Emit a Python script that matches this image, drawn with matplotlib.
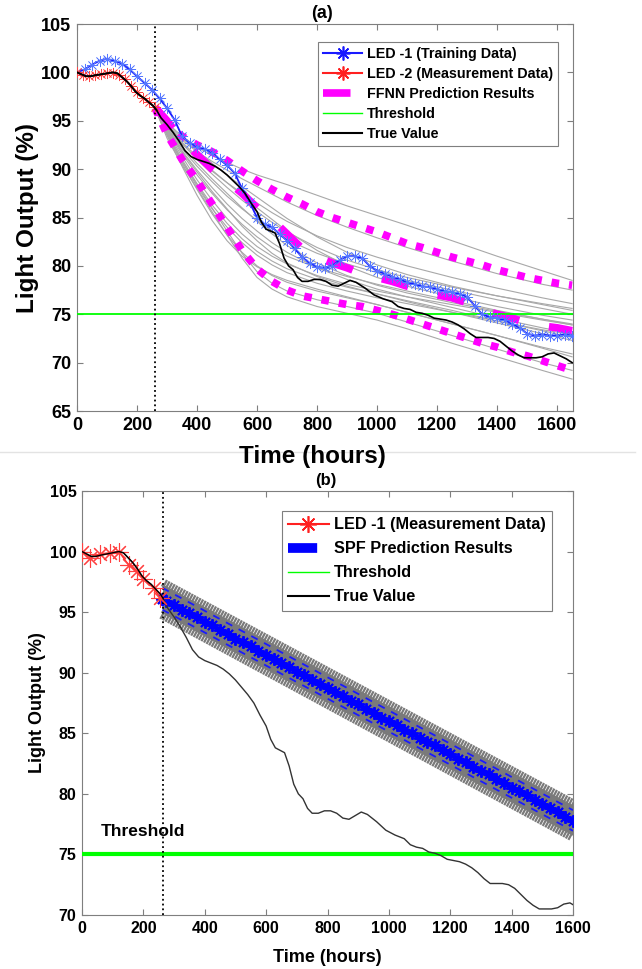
import matplotlib
matplotlib.use("Agg")
import matplotlib.pyplot as plt
from matplotlib.lines import Line2D
import matplotlib.patheffects as pe
from matplotlib import font_manager
from matplotlib.font_manager import FontProperties

names = {f.name for f in font_manager.fontManager.ttflist}
NARROW = "Liberation Sans Narrow" if "Liberation Sans Narrow" in names else "Liberation Sans"
plt.rcParams["font.family"] = ["Liberation Sans", "DejaVu Sans"]
plt.rcParams["font.weight"] = "bold"

# ---------------- data ----------------
true_time = [0, 15, 30, 45, 60, 80, 100, 120, 135, 150, 165, 180, 195, 210, 225, 240, 255, 265,
             280, 300, 320, 340, 360, 380, 400, 420, 440, 460, 480, 500, 520, 540, 560, 580,
             600, 615, 630, 645, 660, 675, 690, 705, 720, 735, 750, 770, 790, 810, 830, 850,
             870, 890, 910, 930, 960, 990, 1020, 1050, 1070, 1090, 1110, 1130, 1150, 1170,
             1190, 1210, 1230, 1250, 1270, 1290, 1310, 1330, 1350, 1370, 1390, 1410, 1430,
             1450, 1470, 1490, 1510, 1530, 1550, 1570, 1590, 1610, 1630, 1650]
true_val = [100.0, 99.8, 99.6, 99.6, 99.7, 99.8, 99.9, 100.0, 99.9, 99.5, 99.1, 98.6, 98.0, 97.6,
            97.3, 96.9, 96.5, 96.1, 95.3, 94.6, 93.8, 92.9, 91.9, 91.3, 91.0, 90.8, 90.6, 90.3,
            89.9, 89.4, 88.8, 88.2, 87.5, 86.5, 85.6, 84.5, 83.8, 83.6, 83.4, 82.3, 80.8, 80.0,
            79.6, 78.8, 78.4, 78.4, 78.6, 78.6, 78.4, 78.0, 77.9, 78.2, 78.5, 78.3, 77.7, 77.0,
            76.6, 76.3, 75.8, 75.6, 75.5, 75.2, 75.1, 74.9, 74.6, 74.5, 74.4, 74.2, 73.9, 73.5,
            73.0, 72.6, 72.6, 72.6, 72.5, 72.2, 71.7, 71.2, 70.8, 70.5, 70.5, 70.5, 70.6, 70.9,
            71.0, 70.7, 70.4, 70.0]

# (a) LED-1 training data
train_time = list(range(0, 1651, 25))
train_val = [100.0, 100.3, 100.8, 101.2, 101.4, 101.2, 100.9, 100.3, 99.6, 98.9, 98.2, 97.3,
             96.3, 95.1, 93.4, 92.7, 92.3, 92.1, 91.7, 91.0, 90.4, 89.6, 88.0, 86.6, 85.0,
             84.3, 84.0, 83.3, 82.6, 81.8, 80.9, 80.3, 79.9, 79.8, 80.0, 80.6, 81.0, 81.0,
             80.8, 80.0, 79.5, 79.2, 78.9, 78.6, 78.3, 78.1, 77.9, 77.8, 77.6, 77.4, 77.3,
             77.1, 76.8, 75.9, 75.0, 74.7, 74.6, 74.4, 74.0, 73.6, 73.0, 72.8, 72.9, 72.8,
             72.8, 72.9, 72.8]

# (a) LED-2 measurement data
meas2_time = [0, 20, 40, 60, 80, 100, 120, 140, 160, 180, 200, 220, 240, 260]
meas2_val = [100.0, 99.7, 99.6, 99.7, 99.8, 99.9, 99.9, 99.7, 99.3, 98.6, 98.0, 97.4, 96.9, 96.4]

# (a) FFNN prediction (mean and bounds)
ffnn_time = [260, 300, 350, 400, 450, 500, 550, 600, 650, 700, 750, 800, 850, 900, 950, 1000,
             1050, 1100, 1150, 1200, 1250, 1300, 1350, 1400, 1450, 1500, 1550, 1600, 1650]
ffnn_mid = [96.4, 95.0, 93.0, 91.5, 90.0, 88.8, 87.5, 86.0, 84.8, 83.3, 81.8, 80.9, 80.3, 79.8,
            79.2, 78.8, 78.4, 77.9, 77.4, 77.0, 76.7, 76.2, 75.5, 75.0, 74.6, 74.1, 73.8, 73.6, 73.3]
ffnn_upper = [96.3, 94.8, 93.4, 92.5, 91.8, 90.9, 89.8, 88.8, 87.9, 87.1, 86.4, 85.6, 85.0, 84.5,
              84.0, 83.5, 82.9, 82.3, 81.9, 81.4, 80.9, 80.5, 80.1, 79.6, 79.2, 78.8, 78.5, 78.2, 78.0]
ffnn_lower = [96.3, 93.6, 91.0, 88.8, 86.4, 84.0, 81.6, 79.7, 78.4, 77.5, 76.9, 76.6, 76.3, 76.0,
              75.8, 75.4, 75.0, 74.5, 74.0, 73.5, 73.0, 72.5, 72.0, 71.6, 71.1, 70.7, 70.2, 69.7, 69.2]

# (a) individual FFNN runs (grey)
run_time = [260, 300, 350, 400, 450, 500, 550, 600, 650, 700, 800, 900, 1000, 1100, 1250, 1400,
            1550, 1650]
run_vals = [
    [96.3, 94.8, 93.4, 92.3, 91.4, 90.7, 90.0, 89.4, 88.9, 88.4, 87.3, 86.2, 85.2, 84.2, 82.6, 81.0, 79.5, 78.5],
    [96.3, 94.6, 93.0, 91.8, 90.8, 89.9, 89.0, 88.2, 87.4, 86.6, 85.2, 84.0, 82.9, 81.9, 80.5, 79.2, 78.1, 77.5],
    [96.3, 94.4, 92.6, 91.1, 89.8, 88.6, 87.5, 86.5, 85.5, 84.6, 83.1, 81.9, 80.9, 80.0, 78.8, 77.7, 76.7, 76.1],
    [96.3, 94.2, 92.1, 90.3, 88.7, 87.2, 85.9, 84.7, 83.6, 82.7, 81.3, 80.2, 79.3, 78.5, 77.5, 76.5, 75.6, 75.0],
    [96.3, 94.0, 91.6, 89.4, 87.5, 85.8, 84.3, 83.0, 81.9, 81.0, 79.8, 78.9, 78.1, 77.4, 76.4, 75.4, 74.5, 73.9],
    [96.3, 93.8, 91.0, 88.5, 86.3, 84.4, 82.8, 81.5, 80.5, 79.7, 78.6, 77.8, 77.1, 76.4, 75.4, 74.3, 73.3, 72.6],
    [96.3, 93.6, 90.6, 87.9, 85.4, 83.2, 81.4, 80.0, 79.0, 78.3, 77.4, 76.7, 76.0, 75.2, 74.0, 72.8, 71.5, 70.6],
    [96.3, 93.5, 90.8, 88.4, 86.0, 83.6, 81.3, 79.4, 78.2, 77.4, 76.5, 75.8, 75.1, 74.2, 72.8, 71.4, 70.0, 69.2],
    [96.3, 93.2, 90.4, 88.0, 85.6, 83.2, 80.8, 78.8, 77.6, 76.8, 75.8, 75.1, 74.4, 73.5, 72.0, 70.6, 69.2, 68.3],
    [96.3, 94.3, 92.3, 90.6, 89.0, 87.5, 86.0, 84.6, 83.3, 82.1, 80.3, 79.0, 78.0, 77.2, 76.2, 75.3, 74.5, 74.0],
    [96.3, 94.1, 91.8, 89.7, 87.7, 85.9, 84.1, 82.6, 81.3, 80.3, 78.9, 77.9, 77.1, 76.3, 75.2, 74.1, 73.0, 72.3],
    [96.3, 94.5, 92.8, 91.3, 89.9, 88.6, 87.3, 86.0, 84.8, 83.6, 81.6, 80.0, 78.8, 77.9, 76.8, 75.8, 74.9, 74.4],
    [96.3, 93.9, 91.3, 88.9, 86.8, 84.9, 83.3, 82.0, 81.0, 80.2, 79.0, 78.1, 77.4, 76.8, 76.0, 75.2, 74.4, 73.9],
    [96.3, 94.5, 92.7, 91.0, 89.5, 88.1, 86.8, 85.6, 84.5, 83.5, 81.9, 80.6, 79.6, 78.8, 77.8, 76.9, 76.1, 75.6],
    [96.3, 93.5, 90.3, 87.3, 84.7, 82.6, 81.0, 79.9, 79.1, 78.5, 77.6, 76.8, 76.0, 75.2, 74.0, 72.8, 71.6, 70.9],
    [96.3, 94.2, 91.9, 89.9, 88.1, 86.4, 84.9, 83.6, 82.4, 81.4, 79.8, 78.6, 77.6, 76.8, 75.7, 74.6, 73.6, 73.0],
    [96.3, 93.7, 90.8, 88.2, 85.9, 84.0, 82.4, 81.1, 80.1, 79.3, 78.2, 77.4, 76.7, 76.1, 75.2, 74.3, 73.4, 72.9],
    [96.3, 94.7, 93.2, 91.9, 90.6, 89.4, 88.2, 87.1, 86.0, 84.9, 83.0, 81.4, 80.1, 79.1, 77.9, 76.9, 76.0, 75.4],
]

# (b) LED-1 measurement data
meas1_time = [0, 27, 60, 92, 120, 152, 179, 200, 233, 254]
meas1_val = [100.0, 99.5, 99.8, 99.9, 100.0, 98.9, 98.4, 97.7, 97.0, 96.2]

# (b) SPF prediction (mean of particles)
spf_time = [262, 275, 300, 325, 350, 375, 400, 425, 450, 475, 500, 525, 550, 575, 600, 625, 650,
            675, 700, 725, 750, 775, 800, 825, 850, 875, 900, 925, 950, 975, 1000, 1025, 1050,
            1075, 1100, 1125, 1150, 1175, 1200, 1225, 1250, 1275, 1300, 1325, 1350, 1375, 1400,
            1425, 1450, 1475, 1500, 1525, 1550, 1575, 1600]
spf_mean = [96.1, 95.9, 95.6, 95.2, 94.9, 94.6, 94.2, 93.9, 93.5, 93.2, 92.8, 92.5, 92.2, 91.8,
            91.5, 91.1, 90.8, 90.5, 90.1, 89.8, 89.4, 89.1, 88.7, 88.4, 88.1, 87.7, 87.4, 87.0,
            86.7, 86.3, 86.0, 85.7, 85.3, 85.0, 84.6, 84.3, 84.0, 83.6, 83.3, 82.9, 82.6, 82.2,
            81.9, 81.6, 81.2, 80.9, 80.5, 80.2, 79.9, 79.5, 79.2, 78.8, 78.5, 78.1, 77.8]
spf_ends = [262, 1600]
spf_ci_upper = [97.0, 78.65]
spf_ci_lower = [95.2, 76.95]
spf_band_upper = [97.2, 78.95]
spf_band_lower = [95.0, 76.65]

threshold = 75
start_a = 260
start_b = 265

# ---------------- figure ----------------
W, H = 642, 969
fig = plt.figure(figsize=(W / 100, H / 100), dpi=100)
ASTER = (8, 2, 0)
GREY_SPINE = "#7f7f7f"


def box(l, t, r, b):
    return [l / W, 1 - b / H, (r - l) / W, (b - t) / H]


def style_axes(ax, fs, family):
    for s in ax.spines.values():
        s.set_color(GREY_SPINE)
        s.set_linewidth(0.8)
    ax.tick_params(direction="in", length=4, width=0.8, color=GREY_SPINE,
                   top=True, right=True, pad=4)
    fp = FontProperties(family=family, weight="bold", size=fs)
    for lab in ax.get_xticklabels() + ax.get_yticklabels():
        lab.set_fontproperties(fp)


# ---- (a) ----
ax1 = fig.add_axes(box(77, 24, 573, 411))
for rv in run_vals:
    ax1.plot(run_time, rv, color="#a8a8a8", lw=0.8, zorder=2)
ax1.plot(ffnn_time, ffnn_upper, color="#ff00ff", lw=5.5, dashes=(1.0, 1.3), zorder=3)
ax1.plot(ffnn_time, ffnn_lower, color="#ff00ff", lw=5.5, dashes=(1.0, 1.3), zorder=3)
ax1.plot(ffnn_time, ffnn_mid, color="#ff00ff", lw=5.5, dashes=(3.6, 4.0), zorder=3)
ax1.axhline(threshold, color="#00ff00", lw=1.3, zorder=4)
ax1.axvline(start_a, color="black", lw=1.3, ls=":", zorder=4)
ax1.plot(train_time, train_val, color="#1a1aff", lw=1.3, marker=ASTER, ms=8, mew=0.5,
         mec="#5577ff", zorder=5)
ax1.plot(true_time, true_val, color="black", lw=1.2, zorder=6)
ax1.plot(meas2_time, meas2_val, color="#ff2020", lw=1.0, marker=ASTER, ms=8, mew=0.5,
         mec="#ff4545", zorder=5)
ax1.plot(true_time[:18], true_val[:18], color="black", lw=1.2, zorder=6)
ax1.set_xlim(0, 1653)
ax1.set_ylim(65, 105)
ax1.set_xticks(range(0, 1601, 200))
ax1.set_yticks(range(65, 106, 5))
style_axes(ax1, 13, "Liberation Sans")

h1 = [
    Line2D([], [], color="#1a1aff", lw=1.5, marker=ASTER, ms=10, mew=1.2),
    Line2D([], [], color="#ff2020", lw=1.5, marker=ASTER, ms=10, mew=1.2),
    Line2D([], [], color="#ff00ff", lw=5.5, dashes=(3.6, 4.0)),
    Line2D([], [], color="#00ff00", lw=1.0),
    Line2D([], [], color="black", lw=1.5),
]
l1 = ["LED -1 (Training Data)", "LED -2 (Measurement Data)", "FFNN Prediction Results",
      "Threshold", "True Value"]
leg1 = ax1.legend(h1, l1, loc="upper right", bbox_to_anchor=(0.970, 0.9535), borderaxespad=0,
                  prop={"family": "Liberation Sans", "weight": "bold", "size": 10.3},
                  fancybox=False, framealpha=1, edgecolor=GREY_SPINE, handlelength=2.7,
                  handletextpad=0.35, labelspacing=0.42, borderpad=0.35)
leg1.get_frame().set_linewidth(0.8)

fig.text(322 / W, 1 - 14 / H, "(a)", ha="center", va="center", fontsize=13,
         fontweight="bold")
fig.text(28 / W, 1 - 218 / H, "Light Output (%)", rotation=90, ha="center", va="center",
         fontsize=17.5, fontweight="bold")
fig.text(312 / W, 1 - 456 / H, "Time (hours)", ha="center", va="center", fontsize=17.5,
         fontweight="bold", zorder=5)

# separator
fig.add_artist(Line2D([0, 635 / W], [1 - 452 / H, 1 - 452 / H], color="#e3e3e3", lw=1.0,
                      zorder=0))

# ---- (b) ----
ax2 = fig.add_axes(box(82, 491, 573, 915))
ax2.fill_between(spf_ends, spf_band_lower, spf_band_upper, color="#7a7a7a", lw=0, zorder=2)
ax2.plot(spf_ends, spf_band_upper, color="#7a7a7a", lw=1.6, zorder=2,
         path_effects=[pe.withTickedStroke(spacing=2.1, angle=90, length=2.0)])
ax2.plot(spf_ends[::-1], spf_band_lower[::-1], color="#7a7a7a", lw=1.6, zorder=2,
         path_effects=[pe.withTickedStroke(spacing=2.1, angle=90, length=2.0)])
ax2.plot(spf_ends, spf_ci_upper, color="#1a1aff", lw=1.3, dashes=(4, 4), zorder=3)
ax2.plot(spf_ends, spf_ci_lower, color="#1a1aff", lw=1.3, dashes=(4, 4), zorder=3)
ax2.plot(spf_time, spf_mean, color="#0000ff", lw=3.0, marker=ASTER, ms=9, mew=1.4,
         zorder=4)
ax2.axhline(threshold, color="#00ff00", lw=3.0, zorder=3)
ax2.axvline(start_b, color="black", lw=1.3, ls=":", zorder=4)
ax2.plot(true_time, true_val, color="#333333", lw=1.0, zorder=5)
ax2.plot(meas1_time, meas1_val, color="#ff2020", lw=1.0, marker=ASTER, ms=13, mew=0.8,
         mec="#ff4040", zorder=5)
ax2.plot(true_time[:18], true_val[:18], color="black", lw=1.0, zorder=6)
ax2.text(60, 76.9, "Threshold", fontsize=12.5, fontweight="bold", family=NARROW,
         va="center", ha="left", zorder=7)
ax2.set_xlim(0, 1600)
ax2.set_ylim(70, 105)
ax2.set_xticks(range(0, 1601, 200))
ax2.set_yticks(range(70, 106, 5))
style_axes(ax2, 11.5, NARROW)

h2 = [
    Line2D([], [], color="#ff2020", lw=1.5, marker=ASTER, ms=12, mew=1.2),
    Line2D([], [], color="#0000ff", lw=7, dashes=(3.0, 3.0)),
    Line2D([], [], color="#00ff00", lw=1.0),
    Line2D([], [], color="black", lw=1.5),
]
l2 = ["LED -1 (Measurement Data)", "SPF Prediction Results", "Threshold", "True Value"]
leg2 = ax2.legend(h2, l2, loc="upper right", bbox_to_anchor=(0.957, 0.953), borderaxespad=0,
                  prop={"family": "Liberation Sans", "weight": "bold", "size": 11.7},
                  fancybox=False, framealpha=1, edgecolor=GREY_SPINE, handlelength=2.5,
                  handletextpad=0.3, labelspacing=0.55, borderpad=0.4)
leg2.get_frame().set_linewidth(0.8)

fig.text(326 / W, 1 - 481 / H, "(b)", ha="center", va="center", fontsize=12,
         fontweight="bold")
fig.text(37 / W, 1 - 703 / H, "Light Output (%)", rotation=90, ha="center", va="center",
         fontsize=13, fontweight="bold", family=NARROW)
fig.text(327 / W, 1 - 957 / H, "Time (hours)", ha="center", va="center", fontsize=13,
         fontweight="bold", family=NARROW)

fig.savefig("out.png", dpi=100)
